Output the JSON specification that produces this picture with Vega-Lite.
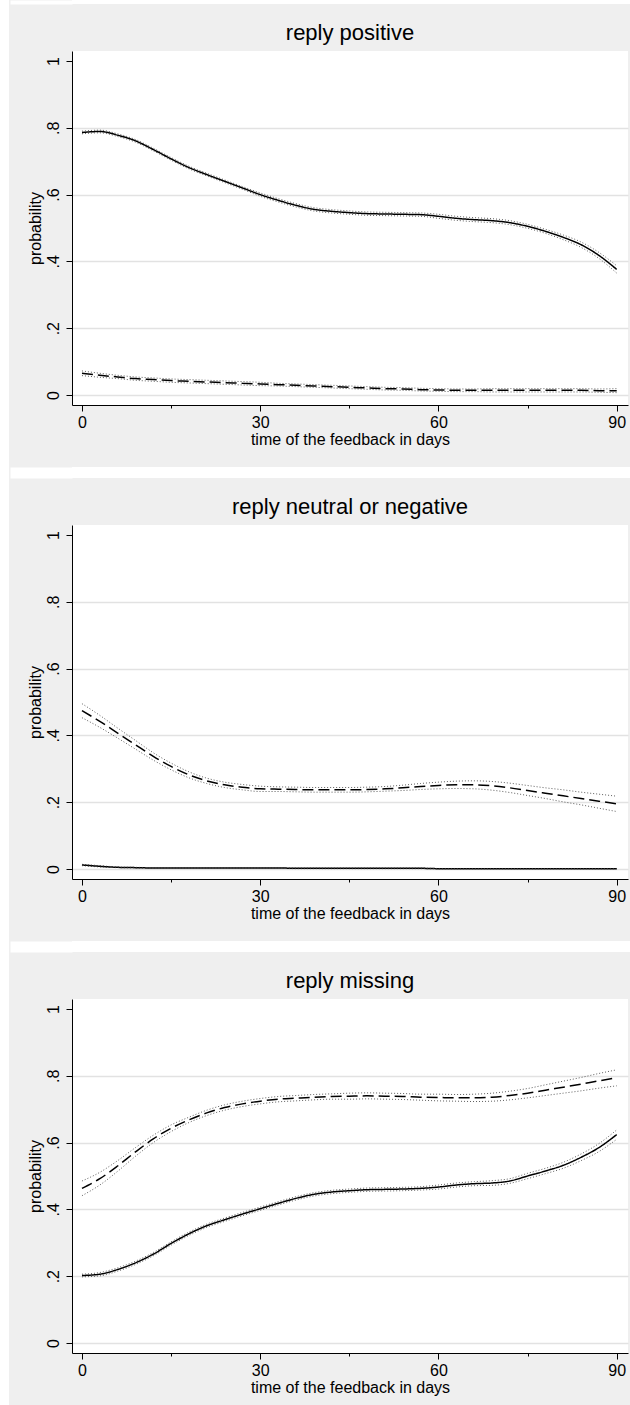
{
"$schema": "https://vega.github.io/schema/vega-lite/v6.json",
"background": "#efefef",
"padding": 0,
"spacing": 18,
"datasets": {"d": [
{"outcome":"reply positive","group":"A","day":0,"p":0.786,"lo":0.782,"hi":0.790},
{"outcome":"reply positive","group":"A","day":3,"p":0.789,"lo":0.785,"hi":0.793},
{"outcome":"reply positive","group":"A","day":6,"p":0.778,"lo":0.774,"hi":0.782},
{"outcome":"reply positive","group":"A","day":9,"p":0.761,"lo":0.757,"hi":0.765},
{"outcome":"reply positive","group":"A","day":12,"p":0.735,"lo":0.731,"hi":0.739},
{"outcome":"reply positive","group":"A","day":15,"p":0.707,"lo":0.703,"hi":0.711},
{"outcome":"reply positive","group":"A","day":18,"p":0.681,"lo":0.677,"hi":0.685},
{"outcome":"reply positive","group":"A","day":21,"p":0.660,"lo":0.656,"hi":0.664},
{"outcome":"reply positive","group":"A","day":24,"p":0.640,"lo":0.636,"hi":0.644},
{"outcome":"reply positive","group":"A","day":27,"p":0.620,"lo":0.616,"hi":0.624},
{"outcome":"reply positive","group":"A","day":30,"p":0.600,"lo":0.595,"hi":0.605},
{"outcome":"reply positive","group":"A","day":33,"p":0.583,"lo":0.578,"hi":0.588},
{"outcome":"reply positive","group":"A","day":36,"p":0.568,"lo":0.563,"hi":0.573},
{"outcome":"reply positive","group":"A","day":39,"p":0.556,"lo":0.551,"hi":0.561},
{"outcome":"reply positive","group":"A","day":42,"p":0.550,"lo":0.545,"hi":0.555},
{"outcome":"reply positive","group":"A","day":45,"p":0.546,"lo":0.541,"hi":0.551},
{"outcome":"reply positive","group":"A","day":48,"p":0.543,"lo":0.538,"hi":0.548},
{"outcome":"reply positive","group":"A","day":51,"p":0.542,"lo":0.537,"hi":0.547},
{"outcome":"reply positive","group":"A","day":54,"p":0.541,"lo":0.536,"hi":0.546},
{"outcome":"reply positive","group":"A","day":57,"p":0.540,"lo":0.535,"hi":0.545},
{"outcome":"reply positive","group":"A","day":60,"p":0.535,"lo":0.529,"hi":0.541},
{"outcome":"reply positive","group":"A","day":63,"p":0.529,"lo":0.523,"hi":0.535},
{"outcome":"reply positive","group":"A","day":66,"p":0.525,"lo":0.519,"hi":0.531},
{"outcome":"reply positive","group":"A","day":69,"p":0.522,"lo":0.516,"hi":0.528},
{"outcome":"reply positive","group":"A","day":72,"p":0.516,"lo":0.510,"hi":0.522},
{"outcome":"reply positive","group":"A","day":75,"p":0.505,"lo":0.499,"hi":0.511},
{"outcome":"reply positive","group":"A","day":78,"p":0.490,"lo":0.484,"hi":0.496},
{"outcome":"reply positive","group":"A","day":81,"p":0.472,"lo":0.465,"hi":0.479},
{"outcome":"reply positive","group":"A","day":84,"p":0.450,"lo":0.442,"hi":0.458},
{"outcome":"reply positive","group":"A","day":87,"p":0.418,"lo":0.409,"hi":0.427},
{"outcome":"reply positive","group":"A","day":90,"p":0.376,"lo":0.365,"hi":0.387},
{"outcome":"reply positive","group":"B","day":0,"p":0.065,"lo":0.058,"hi":0.072},
{"outcome":"reply positive","group":"B","day":3,"p":0.059,"lo":0.053,"hi":0.065},
{"outcome":"reply positive","group":"B","day":6,"p":0.054,"lo":0.049,"hi":0.059},
{"outcome":"reply positive","group":"B","day":9,"p":0.049,"lo":0.044,"hi":0.054},
{"outcome":"reply positive","group":"B","day":12,"p":0.046,"lo":0.041,"hi":0.051},
{"outcome":"reply positive","group":"B","day":15,"p":0.043,"lo":0.038,"hi":0.048},
{"outcome":"reply positive","group":"B","day":18,"p":0.041,"lo":0.036,"hi":0.046},
{"outcome":"reply positive","group":"B","day":21,"p":0.039,"lo":0.034,"hi":0.044},
{"outcome":"reply positive","group":"B","day":24,"p":0.037,"lo":0.032,"hi":0.042},
{"outcome":"reply positive","group":"B","day":27,"p":0.035,"lo":0.030,"hi":0.040},
{"outcome":"reply positive","group":"B","day":30,"p":0.033,"lo":0.028,"hi":0.038},
{"outcome":"reply positive","group":"B","day":33,"p":0.031,"lo":0.027,"hi":0.035},
{"outcome":"reply positive","group":"B","day":36,"p":0.029,"lo":0.025,"hi":0.033},
{"outcome":"reply positive","group":"B","day":39,"p":0.027,"lo":0.023,"hi":0.031},
{"outcome":"reply positive","group":"B","day":42,"p":0.025,"lo":0.021,"hi":0.029},
{"outcome":"reply positive","group":"B","day":45,"p":0.023,"lo":0.019,"hi":0.027},
{"outcome":"reply positive","group":"B","day":48,"p":0.021,"lo":0.017,"hi":0.025},
{"outcome":"reply positive","group":"B","day":51,"p":0.019,"lo":0.015,"hi":0.023},
{"outcome":"reply positive","group":"B","day":54,"p":0.018,"lo":0.014,"hi":0.022},
{"outcome":"reply positive","group":"B","day":57,"p":0.016,"lo":0.012,"hi":0.020},
{"outcome":"reply positive","group":"B","day":60,"p":0.015,"lo":0.011,"hi":0.019},
{"outcome":"reply positive","group":"B","day":63,"p":0.014,"lo":0.010,"hi":0.018},
{"outcome":"reply positive","group":"B","day":66,"p":0.014,"lo":0.010,"hi":0.018},
{"outcome":"reply positive","group":"B","day":69,"p":0.014,"lo":0.009,"hi":0.019},
{"outcome":"reply positive","group":"B","day":72,"p":0.014,"lo":0.009,"hi":0.019},
{"outcome":"reply positive","group":"B","day":75,"p":0.014,"lo":0.009,"hi":0.019},
{"outcome":"reply positive","group":"B","day":78,"p":0.014,"lo":0.009,"hi":0.019},
{"outcome":"reply positive","group":"B","day":81,"p":0.014,"lo":0.009,"hi":0.019},
{"outcome":"reply positive","group":"B","day":84,"p":0.014,"lo":0.009,"hi":0.019},
{"outcome":"reply positive","group":"B","day":87,"p":0.013,"lo":0.008,"hi":0.018},
{"outcome":"reply positive","group":"B","day":90,"p":0.013,"lo":0.007,"hi":0.019},
{"outcome":"reply neutral or negative","group":"A","day":0,"p":0.012,"lo":0.010,"hi":0.014},
{"outcome":"reply neutral or negative","group":"A","day":3,"p":0.008,"lo":0.006,"hi":0.010},
{"outcome":"reply neutral or negative","group":"A","day":6,"p":0.005,"lo":0.004,"hi":0.006},
{"outcome":"reply neutral or negative","group":"A","day":9,"p":0.004,"lo":0.003,"hi":0.005},
{"outcome":"reply neutral or negative","group":"A","day":12,"p":0.003,"lo":0.002,"hi":0.004},
{"outcome":"reply neutral or negative","group":"A","day":15,"p":0.003,"lo":0.002,"hi":0.004},
{"outcome":"reply neutral or negative","group":"A","day":18,"p":0.003,"lo":0.002,"hi":0.004},
{"outcome":"reply neutral or negative","group":"A","day":21,"p":0.003,"lo":0.002,"hi":0.004},
{"outcome":"reply neutral or negative","group":"A","day":24,"p":0.003,"lo":0.002,"hi":0.004},
{"outcome":"reply neutral or negative","group":"A","day":27,"p":0.003,"lo":0.002,"hi":0.004},
{"outcome":"reply neutral or negative","group":"A","day":30,"p":0.003,"lo":0.002,"hi":0.004},
{"outcome":"reply neutral or negative","group":"A","day":33,"p":0.003,"lo":0.002,"hi":0.004},
{"outcome":"reply neutral or negative","group":"A","day":36,"p":0.002,"lo":0.001,"hi":0.003},
{"outcome":"reply neutral or negative","group":"A","day":39,"p":0.002,"lo":0.001,"hi":0.003},
{"outcome":"reply neutral or negative","group":"A","day":42,"p":0.002,"lo":0.001,"hi":0.003},
{"outcome":"reply neutral or negative","group":"A","day":45,"p":0.002,"lo":0.001,"hi":0.003},
{"outcome":"reply neutral or negative","group":"A","day":48,"p":0.002,"lo":0.001,"hi":0.003},
{"outcome":"reply neutral or negative","group":"A","day":51,"p":0.002,"lo":0.001,"hi":0.003},
{"outcome":"reply neutral or negative","group":"A","day":54,"p":0.002,"lo":0.001,"hi":0.003},
{"outcome":"reply neutral or negative","group":"A","day":57,"p":0.002,"lo":0.001,"hi":0.003},
{"outcome":"reply neutral or negative","group":"A","day":60,"p":0.001,"lo":0.0005,"hi":0.0015},
{"outcome":"reply neutral or negative","group":"A","day":63,"p":0.001,"lo":0.0005,"hi":0.0015},
{"outcome":"reply neutral or negative","group":"A","day":66,"p":0.001,"lo":0.0005,"hi":0.0015},
{"outcome":"reply neutral or negative","group":"A","day":69,"p":0.001,"lo":0.0005,"hi":0.0015},
{"outcome":"reply neutral or negative","group":"A","day":72,"p":0.001,"lo":0.0005,"hi":0.0015},
{"outcome":"reply neutral or negative","group":"A","day":75,"p":0.001,"lo":0.0005,"hi":0.0015},
{"outcome":"reply neutral or negative","group":"A","day":78,"p":0.001,"lo":0.0005,"hi":0.0015},
{"outcome":"reply neutral or negative","group":"A","day":81,"p":0.001,"lo":0.0005,"hi":0.0015},
{"outcome":"reply neutral or negative","group":"A","day":84,"p":0.001,"lo":0.0005,"hi":0.0015},
{"outcome":"reply neutral or negative","group":"A","day":87,"p":0.001,"lo":0.0005,"hi":0.0015},
{"outcome":"reply neutral or negative","group":"A","day":90,"p":0.001,"lo":0.0005,"hi":0.0015},
{"outcome":"reply neutral or negative","group":"B","day":0,"p":0.474,"lo":0.453,"hi":0.495},
{"outcome":"reply neutral or negative","group":"B","day":3,"p":0.442,"lo":0.424,"hi":0.460},
{"outcome":"reply neutral or negative","group":"B","day":6,"p":0.407,"lo":0.392,"hi":0.422},
{"outcome":"reply neutral or negative","group":"B","day":9,"p":0.372,"lo":0.359,"hi":0.385},
{"outcome":"reply neutral or negative","group":"B","day":12,"p":0.337,"lo":0.326,"hi":0.348},
{"outcome":"reply neutral or negative","group":"B","day":15,"p":0.307,"lo":0.297,"hi":0.317},
{"outcome":"reply neutral or negative","group":"B","day":18,"p":0.282,"lo":0.273,"hi":0.291},
{"outcome":"reply neutral or negative","group":"B","day":21,"p":0.264,"lo":0.256,"hi":0.272},
{"outcome":"reply neutral or negative","group":"B","day":24,"p":0.252,"lo":0.244,"hi":0.260},
{"outcome":"reply neutral or negative","group":"B","day":27,"p":0.245,"lo":0.237,"hi":0.253},
{"outcome":"reply neutral or negative","group":"B","day":30,"p":0.240,"lo":0.232,"hi":0.248},
{"outcome":"reply neutral or negative","group":"B","day":33,"p":0.239,"lo":0.232,"hi":0.246},
{"outcome":"reply neutral or negative","group":"B","day":36,"p":0.238,"lo":0.231,"hi":0.245},
{"outcome":"reply neutral or negative","group":"B","day":39,"p":0.237,"lo":0.230,"hi":0.244},
{"outcome":"reply neutral or negative","group":"B","day":42,"p":0.237,"lo":0.230,"hi":0.244},
{"outcome":"reply neutral or negative","group":"B","day":45,"p":0.237,"lo":0.230,"hi":0.244},
{"outcome":"reply neutral or negative","group":"B","day":48,"p":0.238,"lo":0.231,"hi":0.245},
{"outcome":"reply neutral or negative","group":"B","day":51,"p":0.240,"lo":0.233,"hi":0.247},
{"outcome":"reply neutral or negative","group":"B","day":54,"p":0.243,"lo":0.235,"hi":0.251},
{"outcome":"reply neutral or negative","group":"B","day":57,"p":0.247,"lo":0.238,"hi":0.256},
{"outcome":"reply neutral or negative","group":"B","day":60,"p":0.250,"lo":0.240,"hi":0.260},
{"outcome":"reply neutral or negative","group":"B","day":63,"p":0.252,"lo":0.241,"hi":0.263},
{"outcome":"reply neutral or negative","group":"B","day":66,"p":0.252,"lo":0.240,"hi":0.264},
{"outcome":"reply neutral or negative","group":"B","day":69,"p":0.249,"lo":0.236,"hi":0.262},
{"outcome":"reply neutral or negative","group":"B","day":72,"p":0.243,"lo":0.229,"hi":0.257},
{"outcome":"reply neutral or negative","group":"B","day":75,"p":0.235,"lo":0.220,"hi":0.250},
{"outcome":"reply neutral or negative","group":"B","day":78,"p":0.227,"lo":0.211,"hi":0.243},
{"outcome":"reply neutral or negative","group":"B","day":81,"p":0.219,"lo":0.201,"hi":0.237},
{"outcome":"reply neutral or negative","group":"B","day":84,"p":0.211,"lo":0.192,"hi":0.230},
{"outcome":"reply neutral or negative","group":"B","day":87,"p":0.203,"lo":0.182,"hi":0.224},
{"outcome":"reply neutral or negative","group":"B","day":90,"p":0.195,"lo":0.172,"hi":0.218},
{"outcome":"reply missing","group":"A","day":0,"p":0.202,"lo":0.198,"hi":0.206},
{"outcome":"reply missing","group":"A","day":3,"p":0.206,"lo":0.201,"hi":0.211},
{"outcome":"reply missing","group":"A","day":6,"p":0.220,"lo":0.215,"hi":0.225},
{"outcome":"reply missing","group":"A","day":9,"p":0.240,"lo":0.235,"hi":0.245},
{"outcome":"reply missing","group":"A","day":12,"p":0.266,"lo":0.261,"hi":0.271},
{"outcome":"reply missing","group":"A","day":15,"p":0.298,"lo":0.293,"hi":0.303},
{"outcome":"reply missing","group":"A","day":18,"p":0.327,"lo":0.322,"hi":0.332},
{"outcome":"reply missing","group":"A","day":21,"p":0.351,"lo":0.346,"hi":0.356},
{"outcome":"reply missing","group":"A","day":24,"p":0.369,"lo":0.364,"hi":0.374},
{"outcome":"reply missing","group":"A","day":27,"p":0.386,"lo":0.381,"hi":0.391},
{"outcome":"reply missing","group":"A","day":30,"p":0.402,"lo":0.397,"hi":0.407},
{"outcome":"reply missing","group":"A","day":33,"p":0.418,"lo":0.413,"hi":0.423},
{"outcome":"reply missing","group":"A","day":36,"p":0.433,"lo":0.428,"hi":0.438},
{"outcome":"reply missing","group":"A","day":39,"p":0.445,"lo":0.440,"hi":0.450},
{"outcome":"reply missing","group":"A","day":42,"p":0.452,"lo":0.447,"hi":0.457},
{"outcome":"reply missing","group":"A","day":45,"p":0.456,"lo":0.451,"hi":0.461},
{"outcome":"reply missing","group":"A","day":48,"p":0.459,"lo":0.454,"hi":0.464},
{"outcome":"reply missing","group":"A","day":51,"p":0.460,"lo":0.455,"hi":0.465},
{"outcome":"reply missing","group":"A","day":54,"p":0.461,"lo":0.456,"hi":0.466},
{"outcome":"reply missing","group":"A","day":57,"p":0.463,"lo":0.458,"hi":0.468},
{"outcome":"reply missing","group":"A","day":60,"p":0.467,"lo":0.461,"hi":0.473},
{"outcome":"reply missing","group":"A","day":63,"p":0.473,"lo":0.467,"hi":0.479},
{"outcome":"reply missing","group":"A","day":66,"p":0.477,"lo":0.471,"hi":0.483},
{"outcome":"reply missing","group":"A","day":69,"p":0.479,"lo":0.472,"hi":0.486},
{"outcome":"reply missing","group":"A","day":72,"p":0.485,"lo":0.478,"hi":0.492},
{"outcome":"reply missing","group":"A","day":75,"p":0.500,"lo":0.492,"hi":0.508},
{"outcome":"reply missing","group":"A","day":78,"p":0.515,"lo":0.507,"hi":0.523},
{"outcome":"reply missing","group":"A","day":81,"p":0.532,"lo":0.523,"hi":0.541},
{"outcome":"reply missing","group":"A","day":84,"p":0.556,"lo":0.546,"hi":0.566},
{"outcome":"reply missing","group":"A","day":87,"p":0.585,"lo":0.573,"hi":0.597},
{"outcome":"reply missing","group":"A","day":90,"p":0.624,"lo":0.610,"hi":0.638},
{"outcome":"reply missing","group":"B","day":0,"p":0.463,"lo":0.441,"hi":0.485},
{"outcome":"reply missing","group":"B","day":3,"p":0.492,"lo":0.473,"hi":0.511},
{"outcome":"reply missing","group":"B","day":6,"p":0.530,"lo":0.514,"hi":0.546},
{"outcome":"reply missing","group":"B","day":9,"p":0.572,"lo":0.559,"hi":0.585},
{"outcome":"reply missing","group":"B","day":12,"p":0.611,"lo":0.600,"hi":0.622},
{"outcome":"reply missing","group":"B","day":15,"p":0.643,"lo":0.633,"hi":0.653},
{"outcome":"reply missing","group":"B","day":18,"p":0.668,"lo":0.660,"hi":0.676},
{"outcome":"reply missing","group":"B","day":21,"p":0.689,"lo":0.681,"hi":0.697},
{"outcome":"reply missing","group":"B","day":24,"p":0.705,"lo":0.697,"hi":0.713},
{"outcome":"reply missing","group":"B","day":27,"p":0.716,"lo":0.708,"hi":0.724},
{"outcome":"reply missing","group":"B","day":30,"p":0.724,"lo":0.716,"hi":0.732},
{"outcome":"reply missing","group":"B","day":33,"p":0.730,"lo":0.722,"hi":0.738},
{"outcome":"reply missing","group":"B","day":36,"p":0.733,"lo":0.725,"hi":0.741},
{"outcome":"reply missing","group":"B","day":39,"p":0.736,"lo":0.728,"hi":0.744},
{"outcome":"reply missing","group":"B","day":42,"p":0.738,"lo":0.730,"hi":0.746},
{"outcome":"reply missing","group":"B","day":45,"p":0.739,"lo":0.730,"hi":0.748},
{"outcome":"reply missing","group":"B","day":48,"p":0.740,"lo":0.731,"hi":0.749},
{"outcome":"reply missing","group":"B","day":51,"p":0.739,"lo":0.730,"hi":0.748},
{"outcome":"reply missing","group":"B","day":54,"p":0.738,"lo":0.729,"hi":0.747},
{"outcome":"reply missing","group":"B","day":57,"p":0.736,"lo":0.727,"hi":0.745},
{"outcome":"reply missing","group":"B","day":60,"p":0.735,"lo":0.725,"hi":0.745},
{"outcome":"reply missing","group":"B","day":63,"p":0.734,"lo":0.724,"hi":0.744},
{"outcome":"reply missing","group":"B","day":66,"p":0.734,"lo":0.723,"hi":0.745},
{"outcome":"reply missing","group":"B","day":69,"p":0.736,"lo":0.724,"hi":0.748},
{"outcome":"reply missing","group":"B","day":72,"p":0.741,"lo":0.728,"hi":0.754},
{"outcome":"reply missing","group":"B","day":75,"p":0.748,"lo":0.734,"hi":0.762},
{"outcome":"reply missing","group":"B","day":78,"p":0.757,"lo":0.741,"hi":0.773},
{"outcome":"reply missing","group":"B","day":81,"p":0.766,"lo":0.748,"hi":0.784},
{"outcome":"reply missing","group":"B","day":84,"p":0.775,"lo":0.755,"hi":0.795},
{"outcome":"reply missing","group":"B","day":87,"p":0.785,"lo":0.763,"hi":0.807},
{"outcome":"reply missing","group":"B","day":90,"p":0.794,"lo":0.770,"hi":0.818}
]},
"hconcat": [
{"width": 9, "height": 1405, "view": {"fill": "white", "stroke": null}, "data": {"values": []}, "mark": "point"},
{"spacing": 0, "align": "none", "vconcat": [
{"width": 559, "height": 4, "view": {"fill": "white", "stroke": null}, "data": {"values": []}, "mark": "point",
 "encoding": {"y": {"field": "v", "type": "quantitative", "scale": {"domain": [0, 1]}, "axis": {"title": null, "ticks": false, "labels": false, "grid": false, "domainColor": "white", "domainWidth": 62, "offset": 31}}}},
{"width": 1, "height": 17.4, "data": {"values": []}, "mark": "point"},
{"width": 556, "height": 354, "view": {"fill": "white", "stroke": null},
 "title": {"text": "reply positive"},
 "data": {"name": "d"},
 "transform": [{"filter": {"field": "outcome", "equal": "reply positive"}}],
 "layer": [
  {"mark": {"type": "line", "color": "black", "strokeWidth": 1.5, "interpolate": "monotone"},
   "encoding": {"x": {"field": "day", "type": "quantitative", "scale": {"domain": [-1.68, 91.9], "nice": false, "zero": false},
       "axis": {"title": "time of the feedback in days", "values": [0, 15, 30, 45, 60, 75, 90], "labelExpr": "datum.value % 30 == 0 ? datum.label : ''", "tickSize": {"condition": {"test": "datum.value % 30 == 0", "value": 6}, "value": 3}, "grid": false, "labelPadding": 3, "titlePadding": 1.5, "labelFlush": false, "labelOverlap": false}},
     "y": {"field": "p", "type": "quantitative", "scale": {"domain": [-0.03, 1.03], "nice": false, "zero": false},
       "axis": {"title": "probability", "values": [0, 0.1, 0.2, 0.3, 0.4, 0.5, 0.6, 0.7, 0.8, 0.9, 1], "labelExpr": "round(datum.value*10) % 2 == 1 ? '' : (datum.value == 0 ? '0' : (datum.value == 1 ? '1' : replace(format(datum.value, '.1f'), '0.', '.')))", "labelAngle": 270, "labelAlign": "center", "labelBaseline": "alphabetic", "labelPadding": 8, "tickSize": {"condition": {"test": "round(datum.value*10) % 2 == 0", "value": 6}, "value": 3}, "grid": true, "gridColor": "#e2e2e2", "gridWidth": 1.5, "gridOpacity": {"condition": {"test": "round(datum.value*10) % 2 == 1 || datum.value == 1", "value": 0}, "value": 1}, "titleAngle": 270, "titleBaseline": "alphabetic", "titlePadding": 5, "labelOverlap": false, "labelFlush": false}},
     "strokeDash": {"field": "group", "type": "nominal", "scale": {"domain": ["A", "B"], "range": [[1, 0], [11, 5]]}, "legend": null}}},
  {"mark": {"type": "line", "color": "#333333", "strokeWidth": 0.8, "strokeDash": [1, 2], "interpolate": "monotone"},
   "encoding": {"x": {"field": "day", "type": "quantitative", "title": "time of the feedback in days"},
     "y": {"field": "lo", "type": "quantitative", "title": "probability"},
     "detail": {"field": "group", "type": "nominal"}}},
  {"mark": {"type": "line", "color": "#333333", "strokeWidth": 0.8, "strokeDash": [1, 2], "interpolate": "monotone"},
   "encoding": {"x": {"field": "day", "type": "quantitative", "title": "time of the feedback in days"},
     "y": {"field": "hi", "type": "quantitative", "title": "probability"},
     "detail": {"field": "group", "type": "nominal"}}}
 ]},
{"width": 1, "height": 18.7, "data": {"values": []}, "mark": "point"},
{"width": 559, "height": 11, "view": {"fill": "white", "stroke": null}, "data": {"values": []}, "mark": "point",
 "encoding": {"y": {"field": "v", "type": "quantitative", "scale": {"domain": [0, 1]}, "axis": {"title": null, "ticks": false, "labels": false, "grid": false, "domainColor": "white", "domainWidth": 62, "offset": 31}}}},
{"width": 1, "height": 17.4, "data": {"values": []}, "mark": "point"},
{"width": 556, "height": 354, "view": {"fill": "white", "stroke": null},
 "title": {"text": "reply neutral or negative"},
 "data": {"name": "d"},
 "transform": [{"filter": {"field": "outcome", "equal": "reply neutral or negative"}}],
 "layer": [
  {"mark": {"type": "line", "color": "black", "strokeWidth": 1.5, "interpolate": "monotone"},
   "encoding": {"x": {"field": "day", "type": "quantitative", "scale": {"domain": [-1.68, 91.9], "nice": false, "zero": false},
       "axis": {"title": "time of the feedback in days", "values": [0, 15, 30, 45, 60, 75, 90], "labelExpr": "datum.value % 30 == 0 ? datum.label : ''", "tickSize": {"condition": {"test": "datum.value % 30 == 0", "value": 6}, "value": 3}, "grid": false, "labelPadding": 3, "titlePadding": 1.5, "labelFlush": false, "labelOverlap": false}},
     "y": {"field": "p", "type": "quantitative", "scale": {"domain": [-0.03, 1.03], "nice": false, "zero": false},
       "axis": {"title": "probability", "values": [0, 0.1, 0.2, 0.3, 0.4, 0.5, 0.6, 0.7, 0.8, 0.9, 1], "labelExpr": "round(datum.value*10) % 2 == 1 ? '' : (datum.value == 0 ? '0' : (datum.value == 1 ? '1' : replace(format(datum.value, '.1f'), '0.', '.')))", "labelAngle": 270, "labelAlign": "center", "labelBaseline": "alphabetic", "labelPadding": 8, "tickSize": {"condition": {"test": "round(datum.value*10) % 2 == 0", "value": 6}, "value": 3}, "grid": true, "gridColor": "#e2e2e2", "gridWidth": 1.5, "gridOpacity": {"condition": {"test": "round(datum.value*10) % 2 == 1 || datum.value == 1", "value": 0}, "value": 1}, "titleAngle": 270, "titleBaseline": "alphabetic", "titlePadding": 5, "labelOverlap": false, "labelFlush": false}},
     "strokeDash": {"field": "group", "type": "nominal", "scale": {"domain": ["A", "B"], "range": [[1, 0], [11, 5]]}, "legend": null}}},
  {"mark": {"type": "line", "color": "#333333", "strokeWidth": 0.8, "strokeDash": [1, 2], "interpolate": "monotone"},
   "encoding": {"x": {"field": "day", "type": "quantitative", "title": "time of the feedback in days"},
     "y": {"field": "lo", "type": "quantitative", "title": "probability"},
     "detail": {"field": "group", "type": "nominal"}}},
  {"mark": {"type": "line", "color": "#333333", "strokeWidth": 0.8, "strokeDash": [1, 2], "interpolate": "monotone"},
   "encoding": {"x": {"field": "day", "type": "quantitative", "title": "time of the feedback in days"},
     "y": {"field": "hi", "type": "quantitative", "title": "probability"},
     "detail": {"field": "group", "type": "nominal"}}}
 ]},
{"width": 1, "height": 18.7, "data": {"values": []}, "mark": "point"},
{"width": 559, "height": 11, "view": {"fill": "white", "stroke": null}, "data": {"values": []}, "mark": "point",
 "encoding": {"y": {"field": "v", "type": "quantitative", "scale": {"domain": [0, 1]}, "axis": {"title": null, "ticks": false, "labels": false, "grid": false, "domainColor": "white", "domainWidth": 62, "offset": 31}}}},
{"width": 1, "height": 17.4, "data": {"values": []}, "mark": "point"},
{"width": 556, "height": 354, "view": {"fill": "white", "stroke": null},
 "title": {"text": "reply missing"},
 "data": {"name": "d"},
 "transform": [{"filter": {"field": "outcome", "equal": "reply missing"}}],
 "layer": [
  {"mark": {"type": "line", "color": "black", "strokeWidth": 1.5, "interpolate": "monotone"},
   "encoding": {"x": {"field": "day", "type": "quantitative", "scale": {"domain": [-1.68, 91.9], "nice": false, "zero": false},
       "axis": {"title": "time of the feedback in days", "values": [0, 15, 30, 45, 60, 75, 90], "labelExpr": "datum.value % 30 == 0 ? datum.label : ''", "tickSize": {"condition": {"test": "datum.value % 30 == 0", "value": 6}, "value": 3}, "grid": false, "labelPadding": 3, "titlePadding": 1.5, "labelFlush": false, "labelOverlap": false}},
     "y": {"field": "p", "type": "quantitative", "scale": {"domain": [-0.03, 1.03], "nice": false, "zero": false},
       "axis": {"title": "probability", "values": [0, 0.1, 0.2, 0.3, 0.4, 0.5, 0.6, 0.7, 0.8, 0.9, 1], "labelExpr": "round(datum.value*10) % 2 == 1 ? '' : (datum.value == 0 ? '0' : (datum.value == 1 ? '1' : replace(format(datum.value, '.1f'), '0.', '.')))", "labelAngle": 270, "labelAlign": "center", "labelBaseline": "alphabetic", "labelPadding": 8, "tickSize": {"condition": {"test": "round(datum.value*10) % 2 == 0", "value": 6}, "value": 3}, "grid": true, "gridColor": "#e2e2e2", "gridWidth": 1.5, "gridOpacity": {"condition": {"test": "round(datum.value*10) % 2 == 1 || datum.value == 1", "value": 0}, "value": 1}, "titleAngle": 270, "titleBaseline": "alphabetic", "titlePadding": 5, "labelOverlap": false, "labelFlush": false}},
     "strokeDash": {"field": "group", "type": "nominal", "scale": {"domain": ["A", "B"], "range": [[1, 0], [11, 5]]}, "legend": null}}},
  {"mark": {"type": "line", "color": "#333333", "strokeWidth": 0.8, "strokeDash": [1, 2], "interpolate": "monotone"},
   "encoding": {"x": {"field": "day", "type": "quantitative", "title": "time of the feedback in days"},
     "y": {"field": "lo", "type": "quantitative", "title": "probability"},
     "detail": {"field": "group", "type": "nominal"}}},
  {"mark": {"type": "line", "color": "#333333", "strokeWidth": 0.8, "strokeDash": [1, 2], "interpolate": "monotone"},
   "encoding": {"x": {"field": "day", "type": "quantitative", "title": "time of the feedback in days"},
     "y": {"field": "hi", "type": "quantitative", "title": "probability"},
     "detail": {"field": "group", "type": "nominal"}}}
 ]}
]}
],
"config": {
 "font": "Liberation Sans",
 "view": {"stroke": null},
 "title": {"fontSize": 22, "fontWeight": "normal", "color": "black", "frame": "group", "anchor": "middle", "baseline": "alphabetic", "offset": 5.6},
 "axis": {"labelFontSize": 16, "titleFontSize": 16, "titleFontWeight": "normal", "labelColor": "black", "titleColor": "black", "domainColor": "black", "tickColor": "black", "domainWidth": 1, "tickWidth": 1}
}
}
